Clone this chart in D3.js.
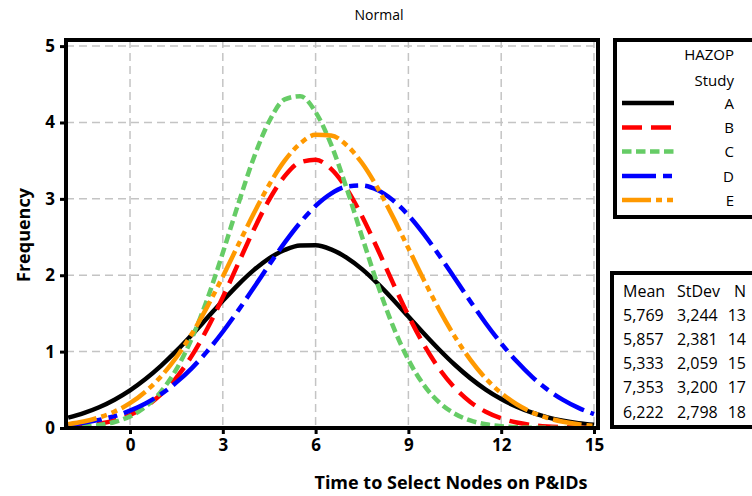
<!DOCTYPE html>
<html><head><meta charset="utf-8">
<script src="https://cdn.jsdelivr.net/npm/d3@7"></script>
<style>body{margin:0;background:#fff}svg{display:block}</style>
</head><body>
<svg id="c" width="752" height="496"></svg>
<script>
// ---- data ----
const xs = [-2,-1.5,-1,-0.5,0,0.5,1,1.5,2,2.5,3,3.5,4,4.5,5,5.5,6,6.5,7,7.5,8,8.5,9,9.5,10,10.5,11,11.5,12,12.5,13,13.5,14,14.5,15];
const seriesNames = ["A","B","C","D","E"];
const valuesA = [0.136,0.195,0.272,0.371,0.493,0.641,0.814,1.009,1.221,1.443,1.666,1.878,2.067,2.222,2.331,2.390,2.392,2.338,2.231,2.080,1.893,1.683,1.460,1.238,1.025,0.828,0.653,0.503,0.379,0.279,0.200,0.140,0.096,0.064,0.042];
const valuesB = [0.015,0.030,0.056,0.100,0.171,0.280,0.439,0.660,0.947,1.302,1.713,2.155,2.596,2.990,3.297,3.479,3.512,3.392,3.135,2.772,2.347,1.900,1.472,1.091,0.774,0.526,0.341,0.212,0.126,0.072,0.039,0.020,0.010,0.005,0.002];
const valuesC = [0.008,0.018,0.038,0.079,0.152,0.278,0.476,0.770,1.176,1.691,2.294,2.934,3.536,4.016,4.302,4.345,4.136,3.712,3.141,2.506,1.884,1.336,0.893,0.562,0.334,0.187,0.099,0.049,0.023,0.010,0.004,0.002,0.001,0.000,0.000];
const valuesD = [0.044,0.069,0.106,0.156,0.227,0.321,0.443,0.597,0.785,1.006,1.260,1.540,1.836,2.136,2.427,2.688,2.907,3.068,3.160,3.176,3.115,2.981,2.785,2.538,2.258,1.960,1.660,1.372,1.108,0.873,0.670,0.502,0.368,0.263,0.183];
const valuesE = [0.051,0.085,0.138,0.215,0.325,0.476,0.675,0.927,1.234,1.589,1.984,2.399,2.809,3.186,3.500,3.724,3.838,3.831,3.704,3.469,3.146,2.764,2.352,1.938,1.547,1.196,0.896,0.650,0.457,0.311,0.205,0.131,0.081,0.048,0.028];
const xTicks = [0,3,6,9,12,15];
const yTicks = [0,1,2,3,4,5];
const tableHeader = ["Mean","StDev","N"];
const tableMean = ["5,769","5,857","5,333","7,353","6,222"];
const tableStDev = ["3,244","2,381","2,059","3,200","2,798"];
const tableN = ["13","14","15","17","18"];

// ---- styles ----
const colors = ["#000000","#ff0000","#66cc66","#0000ff","#ff9900"];
const dashes = [null,"20,9","9.5,4.5","34,7,9,7","29,5,6,5,6,5"];
const font = "'Open Sans', 'Liberation Sans', sans-serif";

const svg = d3.select("#c");
const L = 66, R = 598, T = 40, B = 428;
const x = d3.scaleLinear().domain([-2.07, 15.13]).range([L, R]);
const y = d3.scaleLinear().domain([0, 5.08]).range([B, T]);

// grid
const grid = svg.append("g");
grid.selectAll("line.v").data(xTicks).join("line")
  .attr("x1", d => x(d)).attr("x2", d => x(d)).attr("y1", T).attr("y2", B)
  .attr("stroke", "#c4c4c4").attr("stroke-width", 1.5).attr("stroke-dasharray", "8,5");
grid.selectAll("line.h").data(yTicks.slice(1)).join("line")
  .attr("y1", d => y(d)).attr("y2", d => y(d)).attr("x1", L).attr("x2", R)
  .attr("stroke", "#c4c4c4").attr("stroke-width", 1.5).attr("stroke-dasharray", "8,5");

// curves
svg.append("clipPath").attr("id", "clip").append("rect")
  .attr("x", L).attr("y", T).attr("width", R - L).attr("height", B - T);
const allValues = [valuesA, valuesB, valuesC, valuesD, valuesE];
const line = d3.line().x(d => x(d[0])).y(d => y(d[1])).curve(d3.curveMonotoneX);
const cg = svg.append("g").attr("clip-path", "url(#clip)");
allValues.forEach((vals, i) => {
  cg.append("path").datum(xs.map((v, j) => [v, vals[j]]))
    .attr("d", line).attr("fill", "none")
    .attr("stroke", colors[i]).attr("stroke-width", 4.5)
    .attr("stroke-dasharray", dashes[i]);
});

// axes
const xAxis = d3.axisBottom(x).tickValues(xTicks).tickFormat(d3.format("d")).tickSize(6).tickPadding(5);
const gx = svg.append("g").attr("transform", `translate(0,${B})`).call(xAxis);
const yAxis = d3.axisLeft(y).tickValues(yTicks).tickFormat(d3.format("d")).tickSize(6).tickPadding(5);
const gy = svg.append("g").attr("transform", `translate(${L},0)`).call(yAxis);
[gx, gy].forEach(g => {
  g.select(".domain").remove();
  g.selectAll(".tick line").attr("stroke", "#000").attr("stroke-width", 3);
  g.selectAll(".tick text").attr("font-family", font).attr("font-weight", "bold")
    .attr("font-size", 17).attr("fill", "#000");
});

// frame
svg.append("rect").attr("x", L).attr("y", T).attr("width", R - L).attr("height", B - T)
  .attr("fill", "none").attr("stroke", "#000").attr("stroke-width", 4);

// titles
svg.append("text").attr("x", 379).attr("y", 20).attr("text-anchor", "middle")
  .attr("font-family", font).attr("font-size", 14).text("Normal");
svg.append("text").attr("x", 451).attr("y", 489).attr("text-anchor", "middle")
  .attr("font-family", font).attr("font-weight", "bold").attr("font-size", 18)
  .text("Time to Select Nodes on P&IDs");
svg.append("text").attr("transform", "translate(30,235) rotate(-90)").attr("text-anchor", "middle")
  .attr("font-family", font).attr("font-weight", "bold").attr("font-size", 18)
  .text("Frequency");

// legend
const lg = svg.append("g");
lg.append("rect").attr("x", 615).attr("y", 40).attr("width", 160).attr("height", 177)
  .attr("fill", "#fff").attr("stroke", "#000").attr("stroke-width", 4);
lg.append("text").attr("x", 734).attr("y", 60).attr("text-anchor", "end")
  .attr("font-family", font).attr("font-size", 15).text("HAZOP");
lg.append("text").attr("x", 734).attr("y", 86).attr("text-anchor", "end")
  .attr("font-family", font).attr("font-size", 15).text("Study");
const legY = [103, 127.5, 151.5, 176, 200];
seriesNames.forEach((n, i) => {
  lg.append("line").attr("x1", 622).attr("x2", 674).attr("y1", legY[i]).attr("y2", legY[i])
    .attr("stroke", colors[i]).attr("stroke-width", 4.5).attr("stroke-dasharray", dashes[i]);
  lg.append("text").attr("x", 734).attr("y", legY[i] + 5.5).attr("text-anchor", "end")
    .attr("font-family", font).attr("font-size", 15).text(n);
});

// stats table
const tg = svg.append("g");
tg.append("rect").attr("x", 612).attr("y", 273).attr("width", 160).attr("height", 154)
  .attr("fill", "#fff").attr("stroke", "#000").attr("stroke-width", 4);
const rowY = [297, 321, 345, 369, 393, 418];
const colX = [623, 677, 746];
const colAnchor = ["start", "start", "end"];
const rows = [tableHeader].concat(tableMean.map((m, i) => [m, tableStDev[i], tableN[i]]));
rows.forEach((r, i) => {
  r.forEach((t, j) => {
    tg.append("text").attr("x", colX[j]).attr("y", rowY[i]).attr("text-anchor", colAnchor[j])
      .attr("font-family", font).attr("font-size", 16).text(t);
  });
});
</script>
</body></html>
